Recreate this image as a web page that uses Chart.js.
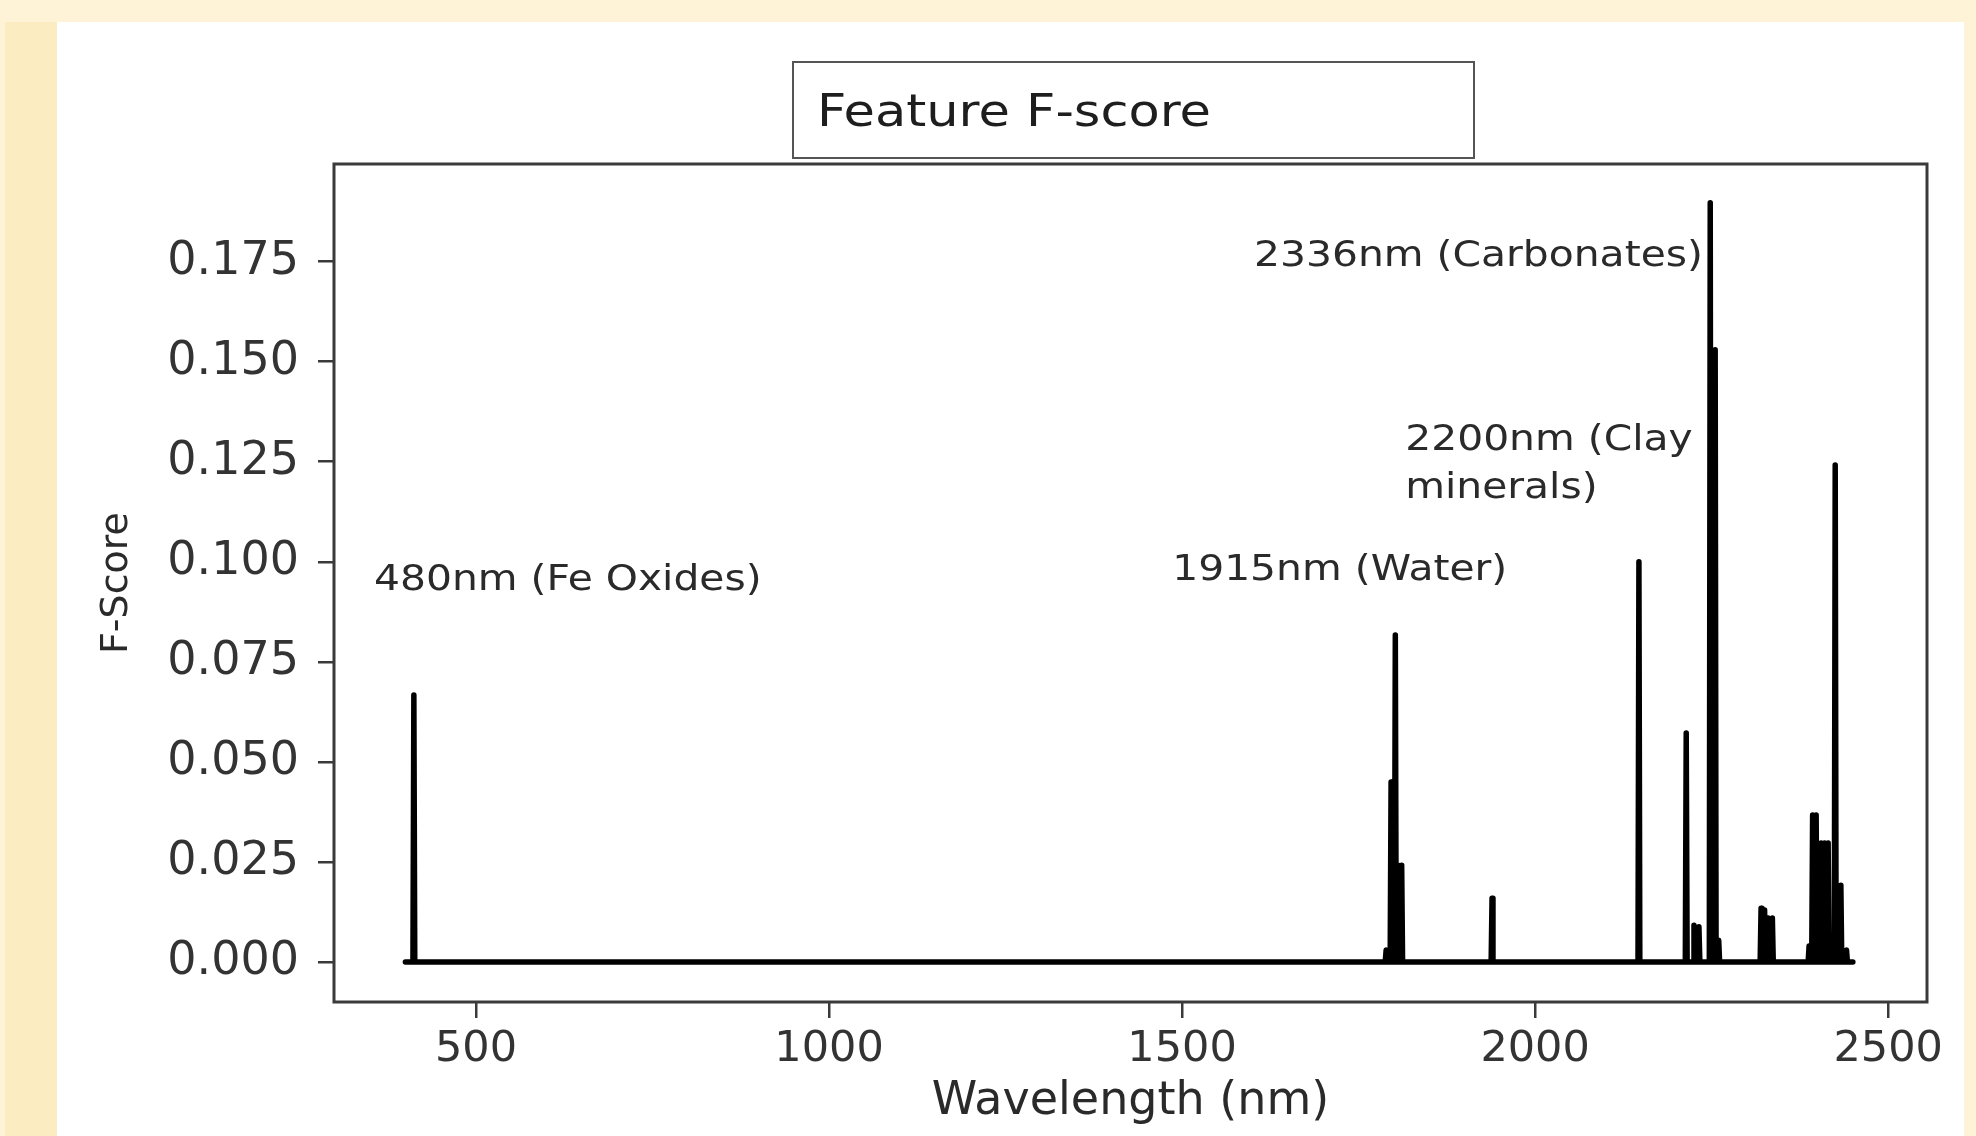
<!DOCTYPE html>
<html>
<head>
<meta charset="utf-8">
<script src="https://cdn.jsdelivr.net/npm/chart.js@4.4.1/dist/chart.umd.min.js"></script>
<style>
  html, body { margin: 0; padding: 0; background: #fef3d6; overflow: hidden; }
  canvas { display: block; }
</style>
</head>
<body>
<canvas id="chart" width="1976" height="1136"></canvas>
<script>
// ---- data ----
const spectrumStart = 400;     // nm, first sample of the spectrum
const spectrumEnd = 2450;      // nm, last sample of the spectrum
const peakWavelengths = [412, 1789, 1796, 1802, 1806, 1811, 1939, 2147, 2214, 2225, 2232, 2248, 2255, 2260,
                         2320, 2325, 2330, 2336, 2388, 2393, 2398, 2405, 2410, 2415, 2425, 2433, 2441];
const peakScores = [0.0667, 0.003, 0.045, 0.0817, 0.0242, 0.0242, 0.0159, 0.100, 0.0572, 0.0092, 0.0088, 0.1897, 0.153, 0.0054,
                    0.0134, 0.013, 0.011, 0.011, 0.004, 0.0367, 0.0367, 0.0297, 0.0297, 0.0297, 0.1242, 0.0192, 0.003];
const xTickValues = [500, 1000, 1500, 2000, 2500];
const yTickValues = [0, 0.025, 0.05, 0.075, 0.1, 0.125, 0.15, 0.175];
const chartTitle = 'Feature F-score';
const xAxisTitle = 'Wavelength (nm)';
const yAxisTitle = 'F-Score';
const noteTexts = ['480nm (Fe Oxides)', '1915nm (Water)', '2200nm (Clay', 'minerals)', '2336nm (Carbonates)'];
const noteWavelengths = [355.5, 1486, 1816, 1816, 1602];
const noteScores = [0.0952, 0.0977, 0.1302, 0.1182, 0.1762];

// build the line series (zero baseline with a spike at each selected feature)
const halfSpike = 1.3; // nm from a spike's top to the zero baseline on each side
const points = [{x: spectrumStart, y: 0}];
peakWavelengths.forEach((w, i) => {
  points.push({x: w - halfSpike, y: 0}, {x: w, y: peakScores[i]}, {x: w + halfSpike, y: 0});
});
points.push({x: spectrumEnd, y: 0});

const FONT = 'DejaVu Sans';

const backdrop = {
  id: 'backdrop',
  beforeDraw(chart) {
    const ctx = chart.ctx;
    ctx.save();
    ctx.fillStyle = '#fef3d6';
    ctx.fillRect(0, 0, chart.width, chart.height);
    ctx.fillStyle = '#fbecc2';
    ctx.fillRect(5, 22, 52, chart.height - 22);
    ctx.fillStyle = '#ffffff';
    ctx.fillRect(57, 22, 1907, chart.height - 22);
    ctx.restore();
  }
};

const decorations = {
  id: 'decorations',
  afterDatasetsDraw(chart) {
    const {ctx, chartArea: a, scales} = chart;
    ctx.save();
    // plot frame
    ctx.strokeStyle = '#3a3a3a';
    ctx.lineWidth = 3;
    ctx.strokeRect(a.left, a.top, a.right - a.left, a.bottom - a.top);
    // annotations
    ctx.fillStyle = '#2a2a2a';
    ctx.textBaseline = 'middle';
    ctx.textAlign = 'left';
    ctx.font = '35.5px "' + FONT + '"';
    noteTexts.forEach((t, i) => {
      const px = scales.x.getPixelForValue(noteWavelengths[i]);
      const py = scales.y.getPixelForValue(noteScores[i]);
      ctx.save();
      ctx.translate(px, py);
      ctx.scale(1.15, 1);
      ctx.fillText(t, 0, 0);
      ctx.restore();
    });
    // title box
    ctx.fillStyle = '#ffffff';
    ctx.fillRect(793, 62, 681, 96);
    ctx.strokeStyle = '#555555';
    ctx.lineWidth = 2;
    ctx.strokeRect(793, 62, 681, 96);
    ctx.fillStyle = '#1e1e1e';
    ctx.font = '44px "' + FONT + '"';
    ctx.translate(817, 115);
    ctx.scale(1.16, 1);
    ctx.fillText(chartTitle, 0, 0);
    ctx.restore();
  }
};

new Chart(document.getElementById('chart'), {
  type: 'line',
  data: {
    datasets: [{
      data: points,
      borderColor: '#000000',
      borderWidth: 5.5,
      borderJoinStyle: 'round',
      borderCapStyle: 'round',
      pointRadius: 0,
      tension: 0,
      fill: false
    }]
  },
  options: {
    responsive: false,
    animation: false,
    devicePixelRatio: 1,
    layout: { padding: { left: 0, top: 164, right: 49, bottom: 0 } },
    plugins: { legend: { display: false }, tooltip: { enabled: false }, title: { display: false } },
    scales: {
      x: {
        type: 'linear',
        min: 298.9,
        max: 2555,
        afterFit(s) { s.height = 134; },
        afterBuildTicks(s) { s.ticks = xTickValues.map(v => ({value: v})); },
        ticks: {
          callback: v => String(v),
          font: { family: FONT, size: 43 },
          color: '#333333',
          padding: 6,
          maxRotation: 0,
          autoSkip: false
        },
        grid: { drawOnChartArea: false, tickLength: 16, color: '#3a3a3a', lineWidth: 2.5 },
        border: { display: false },
        title: {
          display: true,
          text: xAxisTitle,
          font: { family: FONT, size: 46 },
          color: '#2a2a2a',
          padding: { top: 0, bottom: 6 }
        }
      },
      y: {
        min: -0.0100,
        max: 0.1994,
        afterFit(s) { s.width = 334; },
        afterBuildTicks(s) { s.ticks = yTickValues.map(v => ({value: v})); },
        ticks: {
          callback: v => Number(v).toFixed(3),
          font: { family: FONT, size: 46 },
          color: '#333333',
          padding: 19,
          autoSkip: false
        },
        grid: { drawOnChartArea: false, tickLength: 16, color: '#3a3a3a', lineWidth: 2.5 },
        border: { display: false },
        title: {
          display: true,
          text: yAxisTitle,
          font: { family: FONT, size: 38 },
          color: '#2a2a2a',
          padding: { top: 94, bottom: 0 }
        }
      }
    }
  },
  plugins: [backdrop, decorations]
});
</script>
</body>
</html>
